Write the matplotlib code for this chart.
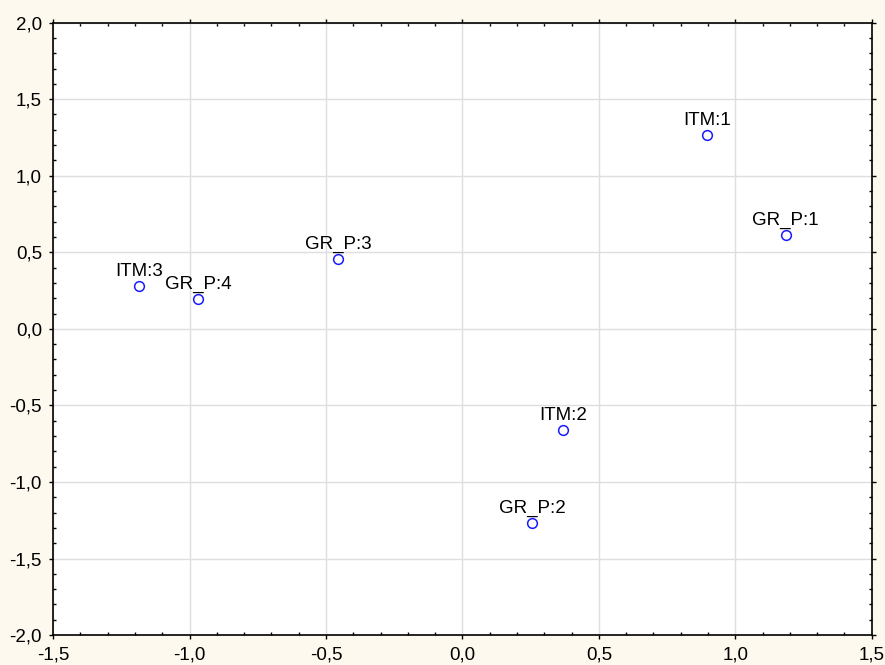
import matplotlib.pyplot as plt
from matplotlib.ticker import MultipleLocator, FuncFormatter

plt.rcParams['font.family'] = ['Liberation Sans', 'DejaVu Sans']

labels = ["ITM:1", "GR_P:1", "GR_P:3", "ITM:3", "GR_P:4", "ITM:2", "GR_P:2"]
dim1 = [0.896, 1.185, -0.456, -1.185, -0.969, 0.368, 0.255]
dim2 = [1.267, 0.613, 0.457, 0.280, 0.195, -0.660, -1.268]

fig = plt.figure(figsize=(8.85, 6.65), dpi=100, facecolor='#fef9ef')
ax = fig.add_axes([0.06, 0.045, 0.925, 0.921])
ax.set_facecolor('white')

ax.plot(dim1, dim2, linestyle='none', marker='o', markersize=7,
        markerfacecolor='none', markeredgecolor='#1a1aff', markeredgewidth=1.1, zorder=3)
for lab, x, y in zip(labels, dim1, dim2):
    ax.annotate(lab, (x, y), xytext=(0, 4.5), textcoords='offset points',
                ha='center', va='bottom', fontsize=13.5, color='black')

ax.set_xlim(-1.5, 1.5)
ax.set_ylim(-2.0, 2.0)
ax.xaxis.set_major_locator(MultipleLocator(0.5))
ax.yaxis.set_major_locator(MultipleLocator(0.5))
ax.xaxis.set_minor_locator(MultipleLocator(0.1))
ax.yaxis.set_minor_locator(MultipleLocator(0.1))
comma = FuncFormatter(lambda v, p: f"{v:.1f}".replace('.', ','))
ax.xaxis.set_major_formatter(comma)
ax.yaxis.set_major_formatter(comma)

ax.grid(True, which='major', color='#dedede', linewidth=1)
ax.set_axisbelow(True)
ax.tick_params(which='major', direction='out', length=3, width=1, labelsize=13.5,
               top=True, right=True)
ax.tick_params(axis='x', which='major', pad=5)
ax.tick_params(axis='y', which='major', pad=5)
ax.tick_params(which='minor', direction='in', length=2.5, width=1, top=True, right=True)
for s in ax.spines.values():
    s.set_linewidth(1.2)
    s.set_color('black')

fig.savefig('out.png', dpi=100, facecolor=fig.get_facecolor())
